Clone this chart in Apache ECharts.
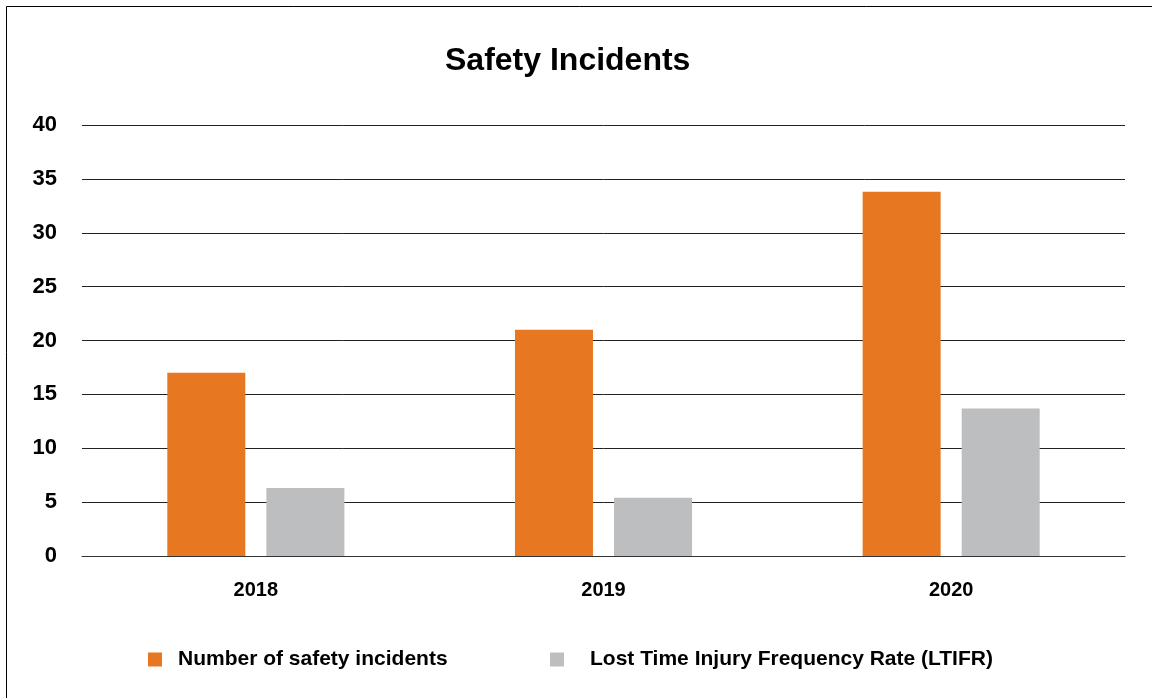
<!DOCTYPE html>
<html>
<head>
<meta charset="utf-8">
<style>
  html, body { margin: 0; padding: 0; background: #fff; }
  #main { width: 1152px; height: 698px; }
</style>
<script src="https://cdn.jsdelivr.net/npm/echarts@6/dist/echarts.min.js"></script>
</head>
<body>
<div id="main"></div>
<script>
var years = ['2018', '2019', '2020'];
var incidents = [17, 21, 33.8];
var ltifr = [6.3, 5.4, 13.7];
var seriesNames = ['Number of safety incidents', 'Lost Time Injury Frequency Rate (LTIFR)'];

var myChart = echarts.init(document.getElementById('main'));
var font = 'Liberation Sans, Arial, Helvetica, sans-serif';

var option = {
  backgroundColor: '#fff',
  textStyle: { fontFamily: font },
  title: {
    text: 'Safety Incidents',
    left: 440,
    top: 40,
    textStyle: { fontSize: 32, fontWeight: 'bold', color: '#000', fontFamily: font }
  },
  // two legends so each item sits where the original has it
  legend: [
    {
      data: [seriesNames[0]],
      left: 148,
      top: 649,
      padding: 0,
      itemWidth: 14,
      itemHeight: 14,
      icon: 'rect',
      textStyle: { fontSize: 21, fontWeight: 'bold', color: '#000', fontFamily: font, padding: [0, 0, 0, 11] }
    },
    {
      data: [seriesNames[1]],
      left: 550,
      top: 649,
      padding: 0,
      itemWidth: 14,
      itemHeight: 14,
      icon: 'rect',
      textStyle: { fontSize: 21, fontWeight: 'bold', color: '#000', fontFamily: font, padding: [0, 0, 0, 21] }
    }
  ],
  grid: { left: 82, right: 27, top: 125, bottom: 142 },
  xAxis: {
    type: 'category',
    data: years,
    axisLine: { show: true, lineStyle: { color: '#333', width: 1 } },
    axisTick: { show: false },
    axisLabel: { fontSize: 20, fontWeight: 'bold', color: '#000', margin: 24, fontFamily: font }
  },
  yAxis: {
    type: 'value',
    min: 0,
    max: 40,
    interval: 5,
    axisLine: { show: false },
    axisTick: { show: false },
    splitLine: { lineStyle: { color: '#222', width: 1 } },
    axisLabel: { fontSize: 22, fontWeight: 'bold', color: '#000', margin: 25, fontFamily: font }
  },
  graphic: [
    {
      type: 'rect',
      shape: { x: 6.5, y: 6.5, width: 1300, height: 900 },
      style: { fill: 'none', stroke: '#000', lineWidth: 1 },
      silent: true
    }
  ],
  series: [
    {
      name: seriesNames[0],
      type: 'bar',
      data: incidents,
      barWidth: 78,
      barGap: '27%',
      itemStyle: { color: '#E87722' }
    },
    {
      name: seriesNames[1],
      type: 'bar',
      data: ltifr,
      barWidth: 78,
      itemStyle: { color: '#BDBEC0' }
    }
  ]
};

myChart.setOption(option);
</script>
</body>
</html>
